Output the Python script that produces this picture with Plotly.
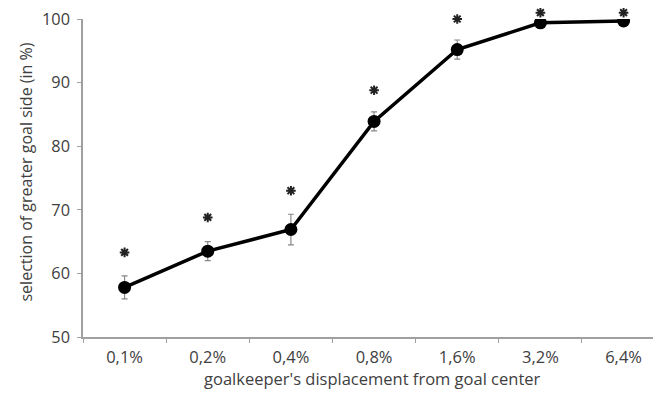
import plotly.graph_objects as go

categories = ["0,1%", "0,2%", "0,4%", "0,8%", "1,6%", "3,2%", "6,4%"]
selection = [57.8, 63.5, 66.9, 83.9, 95.2, 99.4, 99.7]
errors = [1.8, 1.5, 2.4, 1.5, 1.5, 0.3, 0.2]
star_y = [63.3, 68.8, 73.0, 88.8, 100.0, 101.0, 101.0]
y_ticks = [50, 60, 70, 80, 90, 100]
x_title = "goalkeeper's displacement from goal center"
y_title = "selection of greater goal side (in %)"

font_family = "Open Sans, Liberation Sans, sans-serif"
text_color = "#404040"
axis_color = "#a0a0a0"

# layout geometry (div pixels; page body adds 8px margin)
fig_w, fig_h = 653, 381
m_l, m_r, m_t, m_b = 75, 0, 0, 52
plot_h = fig_h - m_t - m_b
y_top_px = 11  # where 100 sits below the plot-area top
y_dom_top = (plot_h - y_top_px) / plot_h
y_lo, y_hi = 50, 100
y2_hi = y_lo + (y_hi - y_lo) / y_dom_top

fig = go.Figure()
fig.add_trace(go.Scatter(
    x=categories, y=selection,
    mode="lines+markers",
    line=dict(color="black", width=3.5),
    marker=dict(color="black", size=13),
    error_y=dict(type="data", array=errors, color="#888888", thickness=1.2, width=3),
    showlegend=False,
))
fig.add_trace(go.Scatter(
    x=categories, y=star_y, xaxis="x", yaxis="y2",
    mode="markers",
    marker=dict(symbol="asterisk-open", size=8, color="#222222",
                line=dict(color="#222222", width=2)),
    cliponaxis=False,
    showlegend=False,
))

fig.update_layout(
    width=fig_w, height=fig_h,
    margin=dict(l=m_l, r=m_r, t=m_t, b=m_b),
    paper_bgcolor="white", plot_bgcolor="rgba(0,0,0,0)",
    font=dict(family=font_family, color=text_color, size=14),
    yaxis2=dict(domain=[0, 1], range=[y_lo, y2_hi], anchor="x", visible=False,
                showgrid=False, zeroline=False),
)
fig.layout.xaxis.update(
    type="category", range=[-0.5, 6.45], automargin=False,
    showline=True, linecolor=axis_color, linewidth=1.5,
    ticks="outside", tickson="boundaries", ticklen=4, tickcolor=axis_color,
    ticklabelstandoff=4,
    showgrid=False,
    tickfont=dict(size=16.5, color=text_color),
)
fig.layout.yaxis.update(
    domain=[0, y_dom_top],
    range=[y_lo, y_hi], automargin=False,
    tickvals=y_ticks, ticklabeloverflow="allow",
    showline=True, linecolor=axis_color, linewidth=1.5,
    ticks="outside", ticklen=4, tickcolor=axis_color,
    ticklabelstandoff=4,
    showgrid=False, zeroline=False,
    tickfont=dict(size=16.3, color=text_color),
)

# axis titles
fig.add_annotation(
    text=x_title, xref="paper", yref="paper", x=0.5, y=0,
    xanchor="center", yanchor="middle", yshift=-41, showarrow=False,
    font=dict(size=16.5, color=text_color, family=font_family),
)
fig.add_annotation(
    text=y_title, xref="paper", yref="paper", x=0, y=0.5,
    xanchor="center", yanchor="middle", xshift=-58, textangle=-90, showarrow=False,
    font=dict(size=16, color=text_color, family=font_family),
)

fig.write_html("out.html")
